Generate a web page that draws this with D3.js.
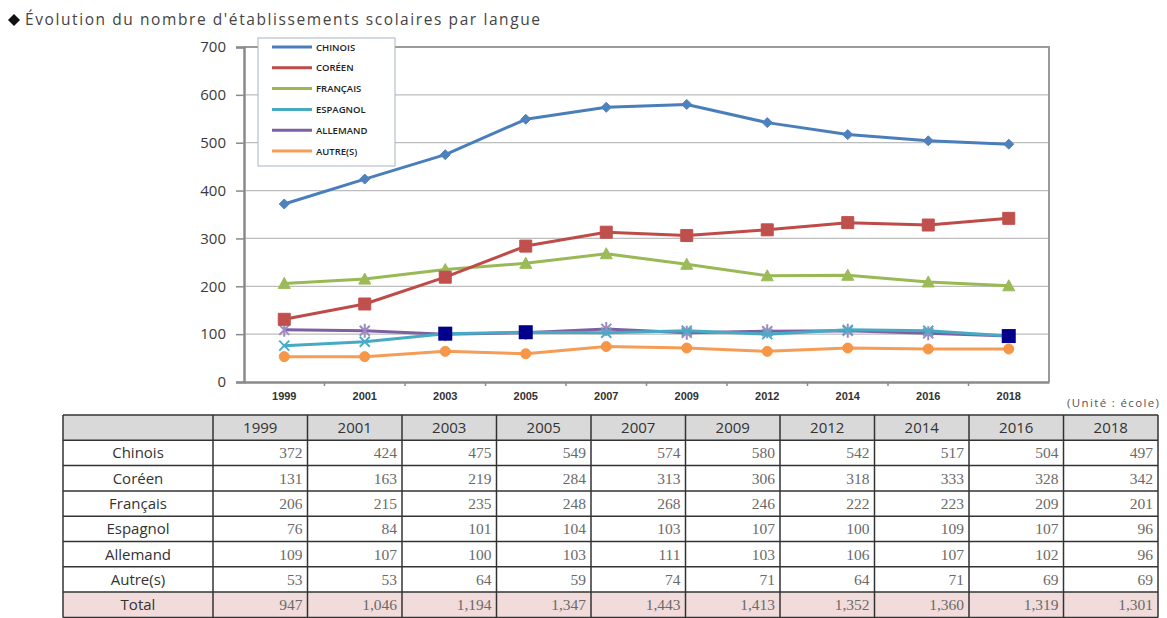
<!DOCTYPE html>
<html>
<head>
<meta charset="utf-8">
<script src="https://cdn.jsdelivr.net/npm/d3@7"></script>
<style>
  body { margin: 0; background: #fff; }
  svg { display: block; }
</style>
</head>
<body>
<script>
var years = ['1999', '2001', '2003', '2005', '2007', '2009', '2012', '2014', '2016', '2018'];
var chinois = [372, 424, 475, 549, 574, 580, 542, 517, 504, 497];
var coreen = [131, 163, 219, 284, 313, 306, 318, 333, 328, 342];
var francais = [206, 215, 235, 248, 268, 246, 222, 223, 209, 201];
var espagnol = [76, 84, 101, 104, 103, 107, 100, 109, 107, 96];
var allemand = [109, 107, 100, 103, 111, 103, 106, 107, 102, 96];
var autres = [53, 53, 64, 59, 74, 71, 64, 71, 69, 69];
var totals = [947, 1046, 1194, 1347, 1443, 1413, 1352, 1360, 1319, 1301];
var yTicks = [0, 100, 200, 300, 400, 500, 600, 700];
// points drawn with the dark square marker in the original
var highlighted = ['2003', '2005', '2018'];

var legendNames = ['CHINOIS', 'CORÉEN', 'FRANÇAIS', 'ESPAGNOL', 'ALLEMAND', 'AUTRE(S)'];
var rowNames = ['Chinois', 'Coréen', 'Français', 'Espagnol', 'Allemand', 'Autre(s)'];
var seriesValues = [chinois, coreen, francais, espagnol, allemand, autres];
var colors = ['#4A7EBB', '#BE4B48', '#98B954', '#46AAC5', '#7D60A0', '#F59D56'];
var markerColors = ['#4F81BD', '#C0504D', '#9BBB59', '#4BACC6', '#9C8AC0', '#F79646'];
var markers = ['diamond', 'square', 'triangle', 'x', 'star', 'circle'];

var W = 1167, H = 618;
var svg = d3.select('body').append('svg').attr('width', W).attr('height', H)
  .style('font-family', '"Open Sans", "Noto Sans", sans-serif');

// title
svg.append('path').attr('d', 'M14,14 L20,20 L14,26 L8,20 Z').attr('fill', '#111');
svg.append('text').attr('x', 25).attr('y', 25).attr('font-size', 15.5).attr('fill', '#444')
  .attr('textLength', 515).attr('lengthAdjust', 'spacing')
  .text("Évolution du nombre d'établissements scolaires par langue");

// ### CHART
var plot = {left: 244, right: 1049, top: 47, bottom: 382};
var x = d3.scaleBand().domain(years).range([plot.left, plot.right]);
var y = d3.scaleLinear().domain([0, 700]).range([plot.bottom, plot.top]);

// gridlines
svg.append('g').selectAll('line').data(yTicks.slice(1)).enter().append('line')
  .attr('x1', plot.left).attr('x2', plot.right)
  .attr('y1', function(d) { return y(d); }).attr('y2', function(d) { return y(d); })
  .attr('stroke', '#bdbdbd').attr('stroke-width', 1.2);

// frame top and right
svg.append('path')
  .attr('d', 'M' + plot.left + ',' + plot.top + 'H' + plot.right + 'V' + plot.bottom)
  .attr('fill', 'none').attr('stroke', '#9a9a9a').attr('stroke-width', 2);

// y axis
var yAxis = svg.append('g').attr('transform', 'translate(' + plot.left + ',0)')
  .call(d3.axisLeft(y).tickValues(yTicks).tickSize(8).tickPadding(10));
yAxis.select('.domain').attr('stroke', '#8a8a8a').attr('stroke-width', 2.5);
yAxis.selectAll('.tick line').attr('stroke', '#8a8a8a').attr('stroke-width', 1.5);
yAxis.selectAll('text').attr('font-size', 15).attr('fill', '#3a3a3a')
  .attr('font-family', '"Open Sans", sans-serif');

// x axis
var xAxis = svg.append('g').attr('transform', 'translate(0,' + plot.bottom + ')')
  .call(d3.axisBottom(x).tickSize(0).tickPadding(10));
xAxis.select('.domain').attr('stroke', '#8a8a8a').attr('stroke-width', 2.5);
xAxis.selectAll('text').attr('font-size', 11).attr('font-weight', 'bold').attr('fill', '#333');
// tick marks between categories
svg.append('g').selectAll('line').data(years.slice(1)).enter().append('line')
  .attr('x1', function(d) { return x(d); }).attr('x2', function(d) { return x(d); })
  .attr('y1', plot.bottom).attr('y2', plot.bottom + 4)
  .attr('stroke', '#8a8a8a').attr('stroke-width', 1.5);

svg.append('text').attr('x', 1067).attr('y', 407).attr('font-size', 11.5).attr('fill', '#555')
  .attr('textLength', 92).attr('lengthAdjust', 'spacing')
  .text('(Unité : école)');

function markerPath(kind, s) {
  if (kind === 'diamond') return 'M0,' + -s + 'L' + s + ',0L0,' + s + 'L' + -s + ',0Z';
  if (kind === 'square') return 'M' + -s + ',' + -s + 'H' + s + 'V' + s + 'H' + -s + 'Z';
  if (kind === 'triangle') return 'M0,' + (-s - 1) + 'L' + (s + 1) + ',' + s + 'L' + (-s - 1) + ',' + s + 'Z';
  if (kind === 'x') return 'M' + -s + ',' + -s + 'L' + s + ',' + s + 'M' + s + ',' + -s + 'L' + -s + ',' + s;
  if (kind === 'star') return 'M' + -s + ',' + -s + 'L' + s + ',' + s + 'M' + s + ',' + -s + 'L' + -s + ',' + s +
    'M0,' + (-s - 2) + 'V' + (s + 2);
  return d3.symbol().type(d3.symbolCircle).size(Math.PI * s * s)();
}

var line = d3.line()
  .x(function(d, i) { return x(years[i]) + x.bandwidth() / 2; })
  .y(function(d) { return y(d); });

// draw from last to first so Chinois ends on top
d3.range(seriesValues.length).reverse().forEach(function(k) {
  var g = svg.append('g');
  g.append('path').datum(seriesValues[k]).attr('d', line)
    .attr('fill', 'none').attr('stroke', colors[k]).attr('stroke-width', 3)
    .attr('stroke-linejoin', 'round');
  var open = markers[k] === 'x' || markers[k] === 'star';
  g.selectAll('path.mk').data(seriesValues[k]).enter().append('path')
    .attr('class', 'mk')
    .attr('transform', function(d, i) {
      return 'translate(' + (x(years[i]) + x.bandwidth() / 2) + ',' + y(d) + ')';
    })
    .attr('d', markerPath(markers[k], k === 1 ? 6 : 5))
    .attr('fill', open ? 'none' : markerColors[k])
    .attr('stroke', markerColors[k]).attr('stroke-width', open ? 2 : 1);
});

// dark square markers
svg.append('g').selectAll('rect').data(highlighted).enter().append('rect')
  .attr('x', function(d) { return x(d) + x.bandwidth() / 2 - 7; })
  .attr('y', function(d) { return y(espagnol[years.indexOf(d)]) - 7; })
  .attr('width', 14).attr('height', 14).attr('fill', '#00008B');

// legend
var legend = svg.append('g').attr('transform', 'translate(258,38)');
legend.append('rect').attr('width', 137).attr('height', 128)
  .attr('fill', '#fff').attr('stroke', '#a7b4c8').attr('stroke-width', 1);
legendNames.forEach(function(name, k) {
  var ly = 9 + k * 20.8;
  legend.append('line').attr('x1', 14).attr('x2', 54).attr('y1', ly).attr('y2', ly)
    .attr('stroke', colors[k]).attr('stroke-width', 3);
  legend.append('text').attr('x', 58).attr('y', ly + 3.5).attr('font-size', 9.5)
    .attr('font-weight', 600).attr('fill', '#222').text(name);
});

// ### TABLE
var tab = {left: 63, labelW: 150, colW: 94.5, top: 415, rowH: 25.3};
var rows = [{name: '', values: years, header: true}];
rowNames.forEach(function(n, k) { rows.push({name: n, values: seriesValues[k]}); });
rows.push({name: 'Total', values: totals, total: true});
var fmt = d3.format(',');

var tg = svg.append('g');
rows.forEach(function(r, ri) {
  var ry = tab.top + ri * tab.rowH;
  var bg = r.header ? '#d9d9d9' : (r.total ? '#f2dcdb' : '#fff');
  tg.append('rect').attr('x', tab.left).attr('y', ry)
    .attr('width', tab.labelW + tab.colW * years.length).attr('height', tab.rowH).attr('fill', bg);
  tg.append('text').attr('x', tab.left + tab.labelW / 2).attr('y', ry + tab.rowH / 2 + 5.5)
    .attr('text-anchor', 'middle').attr('font-size', 15).attr('fill', '#333').text(r.name);
  r.values.forEach(function(v, ci) {
    var cx = tab.left + tab.labelW + ci * tab.colW;
    var t = tg.append('text').attr('y', ry + tab.rowH / 2 + 5.5);
    if (r.header) {
      t.attr('x', cx + tab.colW / 2).attr('text-anchor', 'middle').attr('font-size', 15)
        .attr('fill', '#333').text(v);
    } else {
      t.attr('x', cx + tab.colW - 5).attr('text-anchor', 'end').attr('font-size', 15.5)
        .attr('font-family', '"Liberation Serif", "DejaVu Serif", serif')
        .attr('fill', '#6a6a6a').text(fmt(v));
    }
  });
});
// grid lines of the table
var tRight = tab.left + tab.labelW + tab.colW * years.length;
var tBottom = tab.top + tab.rowH * rows.length;
d3.range(rows.length + 1).forEach(function(i) {
  tg.append('line').attr('x1', tab.left).attr('x2', tRight)
    .attr('y1', tab.top + i * tab.rowH).attr('y2', tab.top + i * tab.rowH)
    .attr('stroke', '#333').attr('stroke-width', 1.5);
});
var colXs = [tab.left].concat(d3.range(years.length + 1).map(function(i) {
  return tab.left + tab.labelW + i * tab.colW;
}));
colXs.forEach(function(cx) {
  tg.append('line').attr('x1', cx).attr('x2', cx).attr('y1', tab.top).attr('y2', tBottom)
    .attr('stroke', '#333').attr('stroke-width', 1.5);
});
</script>
</body>
</html>
